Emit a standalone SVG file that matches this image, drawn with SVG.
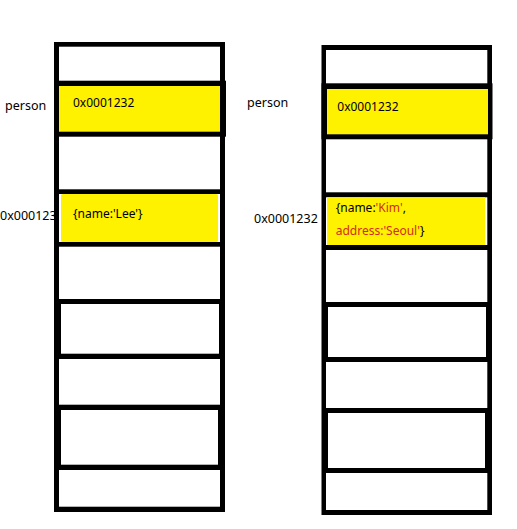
<svg xmlns="http://www.w3.org/2000/svg" width="517" height="529" viewBox="0 0 517 529">
<style>
text{font-family:"Noto Sans","Liberation Sans",Arial,sans-serif;font-size:12px;fill:#000}
.lbl{font-size:12.5px}
.red{fill:#d42a1c}
.frame{fill:#000}
.w{fill:#fff}
.y{fill:#fff200}
</style>
<rect width="517" height="529" fill="#fff"/>
<g id="labels">
<text class="lbl" x="5" y="110">person</text>
<text class="lbl" x="0" y="219.5">0x0001232</text>
<text class="lbl" x="247" y="106.5">person</text>
<text class="lbl" x="254" y="223">0x0001232</text>
</g>
<g id="stack-left">
<rect class="frame" x="54" y="42" width="171" height="470"/>
<rect class="frame" x="54" y="80.7" width="172" height="56"/>
<g id="L0"><rect class="w" x="59" y="46.7" width="161" height="34"/></g>
<g id="L1"><rect class="y" x="59" y="86" width="161" height="45.7"/>
<text x="73" y="106.7">0x0001232</text></g>
<g id="L2"><rect class="w" x="59" y="136.7" width="161" height="52.6"/></g>
<g id="L3"><rect class="w" x="59" y="194" width="161" height="48"/>
<rect class="y" x="61" y="194" width="157" height="48" rx="1.5"/>
<text x="73" y="218.3">{name:'Lee'}</text></g>
<g id="L4"><rect class="w" x="59" y="246.7" width="161" height="52.3"/></g>
<g id="L5"><rect class="w" x="61" y="304" width="158" height="49.7"/></g>
<g id="L6"><rect class="w" x="59" y="359" width="161" height="45.7"/></g>
<g id="L7"><rect class="w" x="61" y="410" width="157" height="54.7"/></g>
<g id="L8"><rect class="w" x="59" y="470" width="161" height="36.7"/></g>
</g>
<g id="stack-right">
<rect class="frame" x="321.5" y="45" width="170.5" height="470"/>
<rect class="frame" x="321.5" y="83.3" width="171" height="56"/>
<g id="R0"><rect class="w" x="326" y="50" width="161.3" height="33.3"/></g>
<g id="R1"><rect class="y" x="327" y="89" width="161" height="45.3"/>
<text x="337.3" y="111">0x0001232</text></g>
<g id="R2"><rect class="w" x="326" y="139.3" width="161.3" height="53"/></g>
<g id="R3"><rect class="w" x="326" y="197.3" width="161.3" height="47.7"/>
<rect class="y" x="327" y="197.3" width="158" height="47.7"/>
<text x="335.7" y="211.7">{name:<tspan class="red">'Kim'</tspan>,</text>
<text x="335.7" y="235"><tspan class="red">address:'Seoul'</tspan>}</text></g>
<g id="R4"><rect class="w" x="326" y="250" width="161.3" height="52"/></g>
<g id="R5"><rect class="w" x="328" y="307" width="158" height="50"/></g>
<g id="R6"><rect class="w" x="326" y="362" width="161.3" height="46"/></g>
<g id="R7"><rect class="w" x="328" y="413" width="157" height="55"/></g>
<g id="R8"><rect class="w" x="326" y="473" width="161.3" height="37"/></g>
</g>
<g id="connectors"/>
</svg>
